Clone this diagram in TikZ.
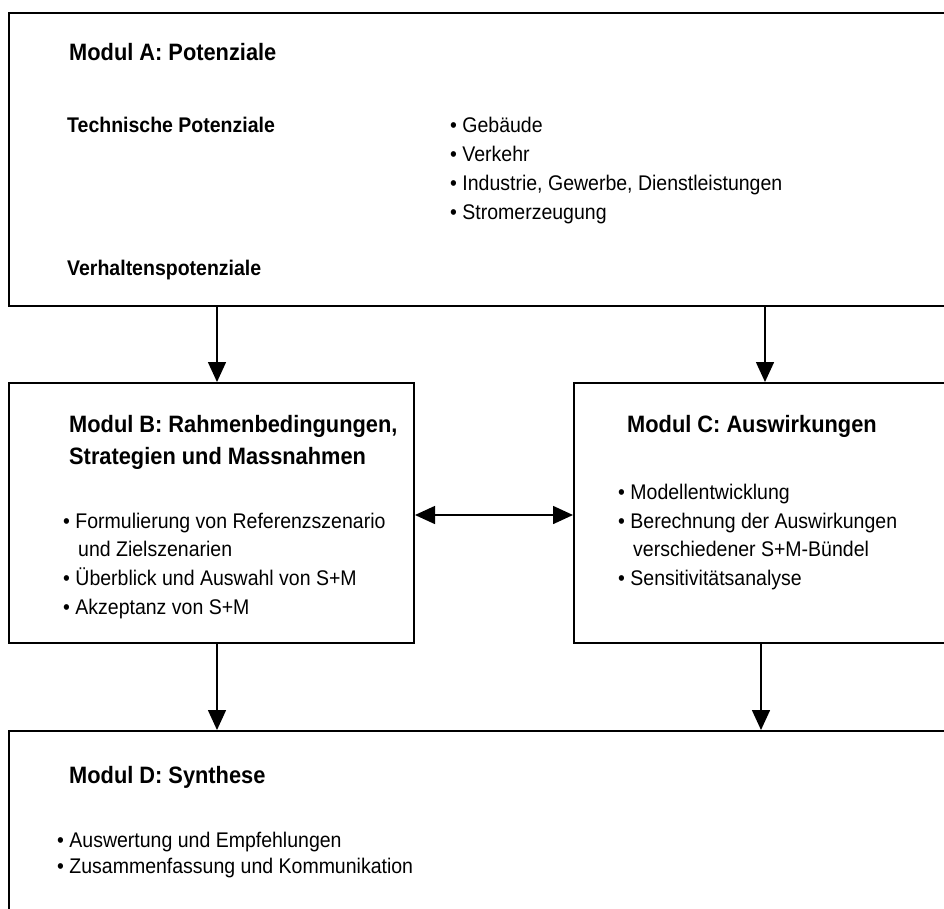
\documentclass[tikz,border=0pt]{standalone}
\usepackage{fontspec}
\setmainfont{Liberation Sans}[FakeStretch=0.92]
\usetikzlibrary{arrows.meta}
\begin{document}
\begin{tikzpicture}[x=1pt,y=-1pt,
  box/.style={draw, line width=2pt, rectangle, inner sep=0pt, anchor=north west},
  modtitle/.style={font=\bfseries\fontsize{23.7}{28}\selectfont, anchor=base west, inner sep=0pt},
  subhead/.style={font=\bfseries\fontsize{21.2}{25}\selectfont, anchor=base west, inner sep=0pt},
  itm/.style={font=\fontsize{21.2}{25}\selectfont, anchor=base west, inner sep=0pt},
  arr/.style={line width=1.5pt, -{Triangle[length=20pt,width=18pt]}},
  darr/.style={line width=1.5pt, {Triangle[length=20pt,width=18pt]}-{Triangle[length=20pt,width=18pt]}}]
\useasboundingbox (0,0) rectangle (944,908);
\clip (0,0) rectangle (944,908);
\fill[white] (0,0) rectangle (944,908);

% boxes
\node[box, minimum width=980pt, minimum height=293pt] (A) at (8,12) {};
\node[box, minimum width=405pt, minimum height=260pt] (B) at (8,382) {};
\node[box, minimum width=420pt, minimum height=260pt] (C) at (573,382) {};
\node[box, minimum width=980pt, minimum height=220pt] (D) at (8,730) {};

% module A
\node[modtitle] (At) at (69,60) {Modul A: Potenziale};
\node[subhead] (Atech) at (67,132) {Technische Potenziale};
\node[subhead] (Averh) at (67,275) {Verhaltenspotenziale};
\node[itm] (A1) at (450,132) {• Gebäude};
\node[itm] (A2) at (450,161) {• Verkehr};
\node[itm] (A3) at (450,190) {• Industrie, Gewerbe, Dienstleistungen};
\node[itm] (A4) at (450,219) {• Stromerzeugung};

% module B
\node[modtitle] (Bt1) at (69,432.7) {Modul B: Rahmenbedingungen,};
\node[modtitle] (Bt2) at (69,464) {Strategien und Massnahmen};
\node[itm] (B1) at (63,528) {• Formulierung von Referenzszenario};
\node[itm] (B1b) at (78,556.5) {und Zielszenarien};
\node[itm] (B2) at (63,585.5) {• Überblick und Auswahl von S+M};
\node[itm] (B3) at (63,614) {• Akzeptanz von S+M};

% module C
\node[modtitle] (Ct) at (627,432.7) {Modul C: Auswirkungen};
\node[itm] (C1) at (618,499.3) {• Modellentwicklung};
\node[itm] (C2) at (618,528.3) {• Berechnung der Auswirkungen};
\node[itm] (C2b) at (633,556.7) {verschiedener S+M-Bündel};
\node[itm] (C3) at (618,585.7) {• Sensitivitätsanalyse};

% module D
\node[modtitle] (Dt) at (69,783) {Modul D: Synthese};
\node[itm] (D1) at (57,847) {• Auswertung und Empfehlungen};
\node[itm] (D2) at (57,873) {• Zusammenfassung und Kommunikation};

% connectors
\coordinate (xl) at (217,0);
\coordinate (xr1) at (765,0);
\coordinate (xr2) at (761,0);
\draw[arr] (A.south -| xl) -- (B.north -| xl);
\draw[arr] (A.south -| xr1) -- (C.north -| xr1);
\draw[arr] (B.south -| xl) -- (D.north -| xl);
\draw[arr] (C.south -| xr2) -- (D.north -| xr2);
\coordinate (ym) at (0,515);
\draw[darr] (B.east |- ym) -- (C.west |- ym);
\end{tikzpicture}
\end{document}
